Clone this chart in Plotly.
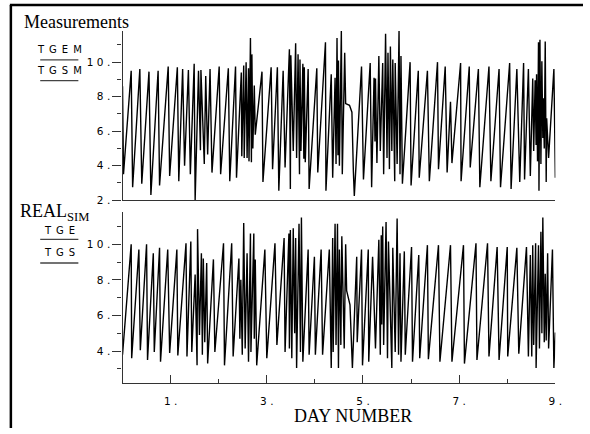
import plotly.graph_objects as go

# ---------------- data ----------------
top_day = [0.00, 0.02, 0.18, 0.21, 0.36, 0.40, 0.55, 0.59, 0.74, 0.77, 0.95, 0.98,
           1.14, 1.17, 1.25, 1.29, 1.37, 1.41, 1.49, 1.51, 1.58, 1.62, 1.63, 1.70,
           1.73, 1.77, 1.82, 1.86, 2.01, 2.04, 2.20, 2.23, 2.35, 2.37, 2.47, 2.48,
           2.52, 2.53, 2.57, 2.59, 2.62, 2.63, 2.66, 2.68, 2.69, 2.71, 2.74, 2.76,
           2.90, 2.92, 3.09, 3.12, 3.22, 3.25, 3.34, 3.38, 3.47, 3.49, 3.50, 3.55,
           3.60, 3.62, 3.65, 3.68, 3.69, 3.71, 3.75, 3.77, 3.78, 3.80, 3.86, 3.88,
           4.04, 4.06, 4.22, 4.23, 4.34, 4.37, 4.42, 4.44, 4.46, 4.48, 4.49, 4.51,
           4.55, 4.57, 4.62, 4.64, 4.72, 4.77, 4.80, 4.82, 4.97, 5.01, 5.15, 5.18,
           5.23, 5.25, 5.26, 5.29, 5.33, 5.36, 5.41, 5.43, 5.47, 5.50, 5.52, 5.55,
           5.57, 5.60, 5.62, 5.66, 5.67, 5.71, 5.75, 5.77, 5.79, 5.82,
           5.98, 6.00, 6.15, 6.17, 6.34, 6.38, 6.55, 6.57, 6.71, 6.75, 6.82, 6.85,
           7.03, 7.04, 7.21, 7.23, 7.40, 7.43, 7.62, 7.66, 7.83, 7.86, 8.05, 8.08,
           8.20, 8.26, 8.34, 8.36, 8.44, 8.48, 8.53, 8.55, 8.58, 8.60, 8.61, 8.63,
           8.65, 8.66, 8.68, 8.70, 8.72, 8.74, 8.75, 8.77, 8.79, 8.81, 8.82, 8.86,
           8.97, 9.00]
top_val = [8.6, 3.5, 9.5, 2.75, 9.6, 2.95, 9.45, 2.3, 9.5, 2.85, 9.75, 3.4,
           9.7, 3.1, 9.6, 4.0, 9.55, 3.5, 9.9, 2.0, 9.5, 4.9, 9.55, 4.1,
           9.2, 4.65, 9.6, 3.6, 9.75, 3.5, 9.65, 3.1, 9.75, 3.3, 9.4, 4.55,
           9.8, 4.45, 10.0, 4.45, 9.65, 4.25, 11.4, 4.2, 10.45, 5.0, 8.65, 5.8,
           9.45, 3.05, 9.7, 3.8, 9.7, 2.55, 9.5, 3.9, 10.75, 2.65, 10.4, 4.85,
           11.1, 4.45, 10.45, 3.5, 10.15, 4.85, 9.9, 4.4, 9.7, 4.2, 9.6, 2.65,
           9.65, 3.6, 11.15, 2.55, 9.3, 3.3, 9.1, 4.1, 11.4, 4.6, 10.1, 4.0,
           11.8, 3.5, 10.55, 7.6, 7.5, 7.1, 3.7, 2.25, 9.75, 3.2, 9.95, 2.75,
           9.1, 5.4, 9.05, 4.15, 10.35, 4.85, 9.95, 3.5, 11.65, 4.45, 10.55, 3.8,
           10.9, 4.85, 10.15, 3.1, 9.95, 4.1, 11.8, 3.5, 10.35, 2.95,
           10.0, 2.85, 9.5, 3.3, 9.5, 3.1, 10.0, 3.8, 9.75, 3.6, 7.7, 4.15,
           9.95, 3.1, 9.75, 3.9, 9.6, 2.75, 9.75, 3.1, 9.6, 2.75, 9.95, 2.65,
           9.6, 3.05, 9.95, 3.2, 9.6, 3.4, 9.05, 4.85, 8.95, 5.2, 9.3, 4.25,
           11.15, 2.55, 11.3, 4.1, 10.05, 5.6, 7.9, 5.0, 11.2, 3.05, 6.75, 4.45,
           9.6, 3.3]

bot_day = [0.00, 0.18, 0.19, 0.34, 0.37, 0.50, 0.52, 0.64, 0.66, 0.77, 0.79, 0.94,
           0.98, 1.13, 1.15, 1.32, 1.34, 1.42, 1.44, 1.51, 1.55, 1.56, 1.60, 1.64,
           1.66, 1.68, 1.71, 1.75, 1.77, 1.89, 1.92, 2.10, 2.12, 2.27, 2.30, 2.42,
           2.44, 2.46, 2.49, 2.52, 2.55, 2.59, 2.62, 2.66, 2.67, 2.73, 2.74, 2.76,
           2.79, 2.96, 3.00, 3.17, 3.21, 3.36, 3.38, 3.46, 3.47, 3.49, 3.52, 3.55,
           3.58, 3.60, 3.62, 3.67, 3.70, 3.72, 3.75, 3.86, 3.88, 3.99, 4.01, 4.13,
           4.16, 4.30, 4.34, 4.37, 4.38, 4.42, 4.44, 4.47, 4.49, 4.51, 4.54, 4.56,
           4.61, 4.64, 4.66, 4.73, 4.78, 4.87, 4.88, 4.97, 4.99, 5.11, 5.12, 5.20,
           5.26, 5.33, 5.36, 5.38, 5.39, 5.41, 5.43, 5.48, 5.51, 5.53, 5.60, 5.62,
           5.67, 5.71, 5.74, 5.77, 5.79, 5.86, 5.88, 6.01, 6.03, 6.16, 6.18, 6.34,
           6.36, 6.57, 6.60, 6.82, 6.85, 7.09, 7.11, 7.35, 7.37, 7.59, 7.62, 7.79,
           7.83, 8.00, 8.01, 8.20, 8.24, 8.40, 8.44, 8.48, 8.51, 8.53, 8.55, 8.59,
           8.60, 8.65, 8.67, 8.70, 8.72, 8.74, 8.77, 8.79, 8.81, 8.84, 8.86, 8.94,
           8.97, 9.00]
bot_val = [3.8, 10.0, 3.6, 9.7, 4.05, 10.0, 3.5, 9.5, 3.95, 9.8, 3.4, 9.7,
           3.9, 9.7, 3.75, 10.05, 3.7, 10.15, 3.95, 8.3, 3.2, 10.85, 4.9, 9.5,
           3.8, 9.2, 4.5, 8.95, 3.3, 9.15, 3.95, 10.05, 3.2, 10.05, 3.7, 9.2,
           4.7, 8.0, 3.8, 11.2, 4.15, 9.5, 3.4, 10.6, 3.95, 10.6, 4.7, 9.15,
           3.2, 9.7, 3.6, 10.05, 4.35, 10.35, 3.95, 10.6, 4.15, 10.8, 3.6, 10.9,
           5.0, 10.35, 3.05, 11.15, 3.95, 11.5, 3.4, 9.7, 3.8, 9.3, 3.8, 9.7,
           3.8, 9.7, 3.05, 10.35, 3.95, 11.15, 4.35, 11.15, 3.05, 9.7, 4.35, 10.45,
           4.15, 10.0, 7.4, 6.6, 3.05, 9.3, 4.5, 9.7, 3.2, 9.7, 3.4, 9.3,
           4.15, 10.25, 3.8, 10.5, 5.5, 11.0, 4.35, 11.25, 3.6, 10.15, 3.05, 9.8,
           3.95, 11.45, 3.8, 9.5, 3.4, 9.6, 3.8, 9.85, 3.4, 9.4, 3.6, 9.95,
           3.55, 9.95, 3.4, 9.95, 3.4, 9.95, 3.3, 10.05, 3.5, 10.05, 3.7, 9.85,
           3.5, 9.85, 3.7, 9.8, 3.85, 9.85, 3.7, 9.4, 3.7, 9.95, 4.35, 10.05,
           3.05, 9.95, 4.15, 10.7, 5.0, 11.5, 4.5, 8.35, 4.6, 9.5, 4.15, 9.7,
           3.05, 5.05]

SP = "\u2004"
y_major = [2, 4, 6, 8, 10]
y_major_text = ["2" + SP + ".", "4" + SP + ".", "6" + SP + ".", "8" + SP + ".",
                "1" + SP + "0" + SP + "."]
y_minor = [3, 5, 7, 9, 11]
x_major = [1, 3, 5, 7, 9]
x_major_text = ["1" + SP + ".", "3" + SP + ".", "5" + SP + ".", "7" + SP + ".", "9" + SP + "."]
x_minor = [2, 4, 6, 8]

# ---------------- layout helpers ----------------
W, H = 590, 434
def px(x):
    return x / W
def py(y):
    return 1 - y / H

AX = "#333333"
tickfont = dict(family="DejaVu Sans", size=10.5, color="black")

fig = go.Figure()
fig.add_trace(go.Scatter(x=top_day, y=top_val, mode="lines",
                         line=dict(color="black", width=1.4),
                         xaxis="x", yaxis="y", showlegend=False))
fig.add_trace(go.Scatter(x=bot_day, y=bot_val, mode="lines",
                         line=dict(color="black", width=1.4),
                         xaxis="x2", yaxis="y2", showlegend=False))

xdom = [px(124), px(562)]
fig.update_layout(
    width=W, height=H,
    margin=dict(l=0, r=0, t=0, b=0),
    paper_bgcolor="white", plot_bgcolor="white",
    xaxis=dict(domain=xdom, range=[0, 9], anchor="y",
               showline=True, linecolor=AX, linewidth=1.2,
               ticks="", showticklabels=False, showgrid=False, zeroline=False),
    yaxis=dict(domain=[py(203), py(31)], range=[2, 11.83], anchor="x",
               showline=True, linecolor=AX, linewidth=1.2,
               tickmode="array", tickvals=y_major, ticktext=y_major_text,
               ticks="outside", ticklen=9, tickcolor=AX, tickwidth=1.2,
               minor=dict(tickmode="array", tickvals=y_minor, ticks="outside",
                          ticklen=4, tickcolor=AX, tickwidth=1.2),
               tickfont=tickfont, showgrid=False, zeroline=False),
    xaxis2=dict(domain=xdom, range=[0, 9], anchor="y2",
                showline=True, linecolor=AX, linewidth=1.2,
                tickmode="array", tickvals=x_major, ticktext=x_major_text,
                ticks="inside", ticklen=8, tickcolor=AX, tickwidth=1.2,
                minor=dict(tickmode="array", tickvals=x_minor, ticks="inside",
                           ticklen=4, tickcolor=AX, tickwidth=1.2),
                ticklabelstandoff=9,
                tickfont=tickfont, showgrid=False, zeroline=False),
    yaxis2=dict(domain=[py(388), py(215)], range=[2.23, 11.81], anchor="x2",
                showline=True, linecolor=AX, linewidth=1.2,
                tickmode="array", tickvals=y_major, ticktext=y_major_text,
                ticks="outside", ticklen=9, tickcolor=AX, tickwidth=1.2,
                minor=dict(tickmode="array", tickvals=y_minor, ticks="outside",
                           ticklen=4, tickcolor=AX, tickwidth=1.2),
                tickfont=tickfont, showgrid=False, zeroline=False),
)

serif = dict(family="Liberation Serif", size=18, color="black")
lab = dict(family="DejaVu Sans", size=10, color="black")
annos = [
    dict(text="Measurements", x=px(22), y=py(22), xanchor="left", yanchor="middle", font=serif),
    dict(text="REAL<sub>SIM</sub>", x=px(18), y=py(215), xanchor="left", yanchor="middle", font=serif),
    dict(text="T\u2002G\u2002E\u2002M", x=px(60), y=py(50), xanchor="center", yanchor="middle", font=lab),
    dict(text="T\u2002G\u2002S\u2002M", x=px(60), y=py(71), xanchor="center", yanchor="middle", font=lab),
    dict(text="T\u2002G\u2002E", x=px(60), y=py(234), xanchor="center", yanchor="middle", font=lab),
    dict(text="T\u2002G\u2002S", x=px(60), y=py(256), xanchor="center", yanchor="middle", font=lab),
    dict(text="DAY NUMBER", x=px(357), y=py(422), xanchor="center", yanchor="middle", font=serif),
]
for a in annos:
    a.update(xref="paper", yref="paper", showarrow=False)
fig.update_layout(annotations=annos)

shapes = []
for yy in [60.7, 81.7, 242.7, 266.7]:
    shapes.append(dict(type="line", xref="paper", yref="paper",
                       x0=px(40.7), x1=px(79.3), y0=py(yy), y1=py(yy),
                       line=dict(color="#444444", width=1.3)))
# outer frame (left and top edges visible)
shapes.append(dict(type="line", xref="paper", yref="paper",
                   x0=px(11), x1=px(11), y0=0, y1=py(5),
                   line=dict(color="black", width=2.5)))
shapes.append(dict(type="line", xref="paper", yref="paper",
                   x0=px(10), x1=1, y0=py(5), y1=py(5),
                   line=dict(color="black", width=2.5)))
fig.update_layout(shapes=shapes)

fig.write_html("out.html")
